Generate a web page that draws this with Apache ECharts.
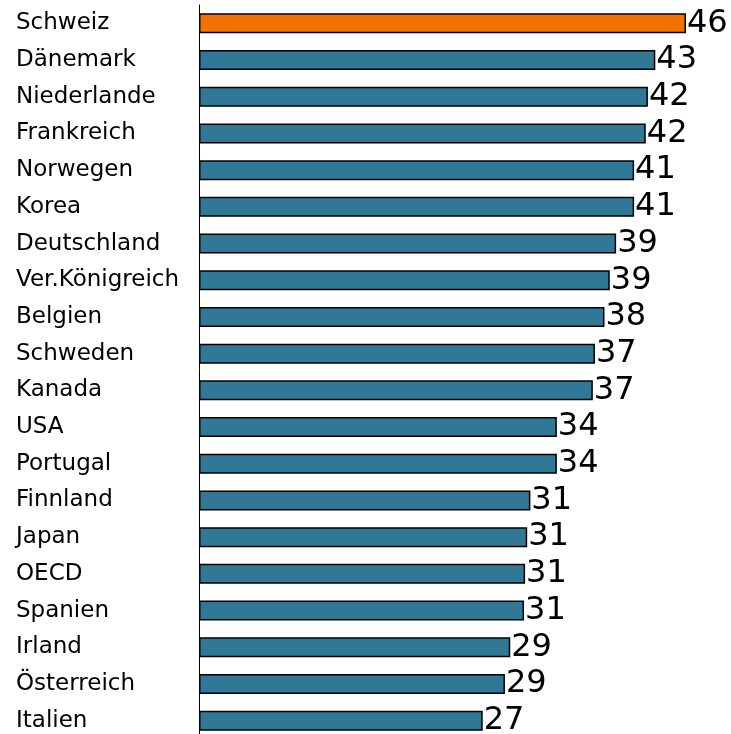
<!DOCTYPE html>
<html>
<head>
<meta charset="utf-8">
<script src="https://cdn.jsdelivr.net/npm/echarts@6/dist/echarts.min.js"></script>
<style>
  html, body { margin: 0; padding: 0; background: #fff; }
  #main { width: 731px; height: 734px; }
</style>
</head>
<body>
<div id="main"></div>
<script>
  // countries, top to bottom
  var countries = ['Schweiz', 'Dänemark', 'Niederlande', 'Frankreich', 'Norwegen', 'Korea',
    'Deutschland', 'Ver.Königreich', 'Belgien', 'Schweden', 'Kanada', 'USA', 'Portugal',
    'Finnland', 'Japan', 'OECD', 'Spanien', 'Irland', 'Österreich', 'Italien'];
  var values = [46.0, 43.1, 42.4, 42.2, 41.1, 41.1, 39.4, 38.8, 38.3, 37.4, 37.2, 33.8, 33.8,
    31.3, 31.0, 30.8, 30.7, 29.4, 28.9, 26.8];
  var highlight = 'Schweiz';

  var chart = echarts.init(document.getElementById('main'));
  chart.setOption({
    animation: false,
    grid: { left: 199, right: 45, top: 5, height: 734, outerBoundsMode: 'none' },
    xAxis: {
      type: 'value', min: 0, max: 46, show: false
    },
    yAxis: {
      type: 'category',
      inverse: true,
      data: countries,
      axisLine: { lineStyle: { color: '#000', width: 1 } },
      axisTick: { show: false },
      axisLabel: {
        align: 'left', margin: 183,
        color: '#000', fontSize: 23, fontFamily: 'DejaVu Sans, sans-serif'
      }
    },
    series: [{
      type: 'bar',
      barWidth: 20,
      data: values.map(function (v, i) {
        return {
          value: v,
          itemStyle: { color: countries[i] === highlight ? '#F47204' : '#317896' }
        };
      }),
      itemStyle: { borderColor: '#000', borderWidth: 1.5 },
      label: {
        show: true, position: 'right', distance: 1,
        color: '#000', fontSize: 32, fontFamily: 'DejaVu Sans, sans-serif',
        formatter: function (p) { return Math.round(p.value); }
      }
    }]
  });
</script>
</body>
</html>
